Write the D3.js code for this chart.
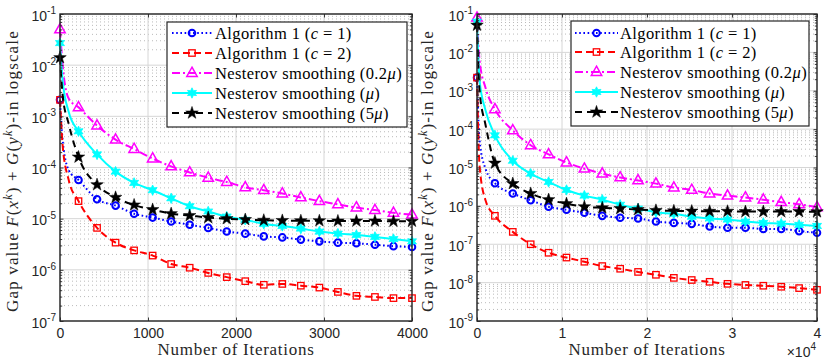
<!DOCTYPE html>
<html><head><meta charset="utf-8">
<script src="https://cdn.jsdelivr.net/npm/d3@7/dist/d3.min.js"></script>
<style>html,body{margin:0;padding:0;background:#fff;} svg{display:block;}</style>
</head><body>
<svg id="chart" width="830" height="359" xmlns="http://www.w3.org/2000/svg"></svg>
<script>
// ================= DATA =================
const seriesKeys = ["c1", "c2", "n02", "n1", "n5"];
const leftXTicks = [0, 1000, 2000, 3000, 4000];
const rightXTicks = [0, 1, 2, 3, 4];
const leftYExponents = [-1, -2, -3, -4, -5, -6, -7];
const rightYExponents = [-1, -2, -3, -4, -5, -6, -7, -8, -9];
// markers are placed every 1/19 of the run
const leftMarkerIters = d3.range(20).map(i => i * 4000 / 19);
const rightMarkerIters = d3.range(20).map(i => i * 4 / 19);   // in units of 10^4
const leftEarlyIters = [30, 100];
const rightEarlyIters = [0.03, 0.1];

// ---- left panel (4000 iterations) ----
const leftC1  = [2.1e-3, 5.7e-5, 2.4e-5, 1.8e-5, 1.25e-5, 1.05e-5, 8.8e-6, 7.6e-6, 6.6e-6, 5.6e-6, 5.1e-6, 4.5e-6, 4.3e-6, 3.9e-6, 3.6e-6, 3.4e-6, 3.3e-6, 3.1e-6, 2.9e-6, 2.8e-6];
const leftC2  = [2.1e-3, 2.2e-5, 6.6e-6, 3.4e-6, 2.4e-6, 1.9e-6, 1.3e-6, 1.1e-6, 8.7e-7, 7.2e-7, 6.0e-7, 5.1e-7, 5.3e-7, 4.9e-7, 4.5e-7, 3.7e-7, 3.1e-7, 2.95e-7, 2.8e-7, 2.8e-7];
const leftN02 = [5e-2, 1.5e-3, 6.6e-4, 3.5e-4, 2.3e-4, 1.5e-4, 1.05e-4, 8e-5, 6.3e-5, 5.2e-5, 4.1e-5, 3.6e-5, 3.1e-5, 2.6e-5, 2.2e-5, 1.9e-5, 1.65e-5, 1.47e-5, 1.3e-5, 1.2e-5];
const leftN1  = [2.7e-2, 5.1e-4, 1.8e-4, 8.3e-5, 5.0e-5, 3.6e-5, 2.5e-5, 1.75e-5, 1.38e-5, 1.1e-5, 9.5e-6, 7.9e-6, 7.2e-6, 6.4e-6, 5.6e-6, 5.1e-6, 4.8e-6, 4.4e-6, 4.0e-6, 3.6e-6];
const leftN5  = [1.4e-2, 1.6e-4, 4.6e-5, 2.6e-5, 1.85e-5, 1.5e-5, 1.25e-5, 1.15e-5, 1.05e-5, 1.0e-5, 9.6e-6, 9.3e-6, 9.2e-6, 9.1e-6, 9.1e-6, 9.0e-6, 9.0e-6, 9.0e-6, 8.9e-6, 8.9e-6];
const leftC1Early  = [3.4e-4, 8.8e-5];
const leftC2Early  = [2.7e-4, 5.6e-5];
const leftN02Early = [1.0e-2, 2.2e-3];
const leftN1Early  = [5.0e-3, 1.2e-3];
const leftN5Early  = [2.6e-3, 7.0e-4];

// ---- right panel (4 x 10^4 iterations) ----
const rightC1  = [2.2e-3, 3.9e-6, 2.1e-6, 1.4e-6, 9.5e-7, 7.9e-7, 6.6e-7, 5.5e-7, 4.9e-7, 4.7e-7, 3.9e-7, 3.6e-7, 3.4e-7, 2.9e-7, 2.7e-7, 2.7e-7, 2.5e-7, 2.5e-7, 2.2e-7, 2.0e-7];
const rightC2  = [2.2e-3, 5.5e-7, 2.1e-7, 1.0e-7, 6.0e-8, 4.5e-8, 3.5e-8, 2.7e-8, 2.3e-8, 1.9e-8, 1.6e-8, 1.33e-8, 1.17e-8, 1.05e-8, 9.3e-9, 8.7e-9, 8.3e-9, 7.8e-9, 7.2e-9, 6.5e-9];
const rightN02 = [8e-2, 3.3e-4, 9.3e-5, 3.8e-5, 2.2e-5, 1.35e-5, 9.3e-6, 6.9e-6, 5.5e-6, 4.6e-6, 3.8e-6, 3.0e-6, 2.6e-6, 2.1e-6, 1.85e-6, 1.65e-6, 1.45e-6, 1.25e-6, 1.1e-6, 9.2e-7];
const rightN1  = [6.3e-2, 6.9e-5, 1.5e-5, 6.9e-6, 4.2e-6, 2.6e-6, 1.85e-6, 1.45e-6, 1.07e-6, 8.5e-7, 6.8e-7, 6.2e-7, 5.2e-7, 4.7e-7, 4.4e-7, 3.9e-7, 3.6e-7, 3.45e-7, 3.2e-7, 3.0e-7];
const rightN5  = [5.1e-2, 1.3e-5, 3.8e-6, 2.1e-6, 1.45e-6, 1.14e-6, 9.5e-7, 8.9e-7, 8.5e-7, 8.0e-7, 7.6e-7, 7.4e-7, 7.3e-7, 7.2e-7, 7.2e-7, 7.1e-7, 7.1e-7, 7.1e-7, 7.1e-7, 7.0e-7];
const rightC1Early  = [5.1e-5, 9.3e-6];
const rightC2Early  = [1.1e-5, 1.4e-6];
const rightN02Early = [6.3e-3, 1.2e-3];
const rightN1Early  = [1.9e-3, 3.1e-4];
const rightN5Early  = [1.0e-3, 1.3e-4];

// ================= STYLE =================
const styles = {
  c1:  {color: "#0000ff", dash: "1.6,2.6", marker: "circle"},
  c2:  {color: "#ff0000", dash: "7,4", marker: "square"},
  n02: {color: "#ff00ff", dash: "8,3,2,3", marker: "triangle"},
  n1:  {color: "#00ffff", dash: null, marker: "hexagram"},
  n5:  {color: "#000000", dash: "7,5", marker: "pentagram"}
};
const SERIF = "'Liberation Serif','Times New Roman',serif";
const SANS = "'Liberation Sans',Arial,Helvetica,sans-serif";
const AXC = "#262626";

function starPath(n, R, r) {
  let p = "";
  for (let i = 0; i < 2 * n; i++) {
    const a = -Math.PI / 2 + i * Math.PI / n;
    const rad = i % 2 ? r : R;
    p += (i ? "L" : "M") + (rad * Math.cos(a)).toFixed(2) + "," + (rad * Math.sin(a)).toFixed(2);
  }
  return p + "Z";
}
function drawMarker(g, kind, color, cx, cy) {
  if (kind === "circle") {
    g.append("circle").attr("cx", cx).attr("cy", cy).attr("r", 3.3)
      .attr("fill", "none").attr("stroke", color).attr("stroke-width", 2);
  } else if (kind === "square") {
    g.append("rect").attr("x", cx - 3.2).attr("y", cy - 3.2).attr("width", 6.4).attr("height", 6.4)
      .attr("fill", "none").attr("stroke", color).attr("stroke-width", 1.3);
  } else if (kind === "triangle") {
    g.append("path").attr("d", "M0,-5.8L5.2,3.4L-5.2,3.4Z").attr("transform", `translate(${cx},${cy})`)
      .attr("fill", "none").attr("stroke", color).attr("stroke-width", 1.5).attr("stroke-linejoin", "miter");
  } else if (kind === "hexagram") {
    g.append("path").attr("d", starPath(6, 5.2, 2.7)).attr("transform", `translate(${cx},${cy})`)
      .attr("fill", color).attr("stroke", color).attr("stroke-width", 0.8);
  } else if (kind === "pentagram") {
    g.append("path").attr("d", starPath(5, 6.6, 2.6)).attr("transform", `translate(${cx},${cy})`)
      .attr("fill", color).attr("stroke", color).attr("stroke-width", 0.5);
  }
}

const svg = d3.select("#chart");

const panels = [
  {
    box: {x0: 60, x1: 412, y0: 14, y1: 321},
    xDomain: [0, 4000], xTicks: leftXTicks, yExps: leftYExponents,
    markerIters: leftMarkerIters, earlyIters: leftEarlyIters,
    data: {c1: leftC1, c2: leftC2, n02: leftN02, n1: leftN1, n5: leftN5},
    early: {c1: leftC1Early, c2: leftC2Early, n02: leftN02Early, n1: leftN1Early, n5: leftN5Early},
    legend: {x: 167, y: 22, w: 240, h: 105, rows: [33, 53, 73, 93, 113], sx0: 172, sx1: 212, tx: 215},
    ylabX: 18, xlabCx: 236, times10: false
  },
  {
    box: {x0: 477, x1: 817, y0: 14, y1: 321},
    xDomain: [0, 4], xTicks: rightXTicks, yExps: rightYExponents,
    markerIters: rightMarkerIters, earlyIters: rightEarlyIters,
    data: {c1: rightC1, c2: rightC2, n02: rightN02, n1: rightN1, n5: rightN5},
    early: {c1: rightC1Early, c2: rightC2Early, n02: rightN02Early, n1: rightN1Early, n5: rightN5Early},
    legend: {x: 571, y: 21, w: 238, h: 105, rows: [33, 52, 72, 92, 112], sx0: 575, sx1: 618, tx: 620},
    ylabX: 433, xlabCx: 647, times10: true
  }
];

const legendLabels = {
  c1:  [["Algorithm 1 (", false], ["c", true], [" = 1)", false]],
  c2:  [["Algorithm 1 (", false], ["c", true], [" = 2)", false]],
  n02: [["Nesterov smoothing (0.2", false], ["μ", true], [")", false]],
  n1:  [["Nesterov smoothing (", false], ["μ", true], [")", false]],
  n5:  [["Nesterov smoothing (5", false], ["μ", true], [")", false]]
};

// widen text by letter spacing so it covers the target width
function fitSpacing(sel, target, nChars) {
  const len = sel.node().getComputedTextLength();
  const ls = Math.max(-0.5, Math.min(1.5, (target - len) / nChars));
  sel.attr("letter-spacing", ls.toFixed(3));
  return ls;
}

panels.forEach(P => {
  const b = P.box;
  const x = d3.scaleLinear().domain(P.xDomain).range([b.x0, b.x1]);
  const yMin = Math.pow(10, d3.min(P.yExps)), yMax = Math.pow(10, d3.max(P.yExps));
  const y = d3.scaleLog().domain([yMin, yMax]).range([b.y1, b.y0]);

  const g = svg.append("g");
  g.append("rect").attr("x", b.x0).attr("y", b.y0).attr("width", b.x1 - b.x0).attr("height", b.y1 - b.y0).attr("fill", "#fff");

  // minor y grid (dotted)
  const minorVals = [];
  for (let e = d3.min(P.yExps); e < d3.max(P.yExps); e++) {
    for (let m = 2; m <= 9; m++) minorVals.push(m * Math.pow(10, e));
  }
  g.append("g").selectAll("line").data(minorVals).join("line")
    .attr("x1", b.x0).attr("x2", b.x1).attr("y1", d => y(d)).attr("y2", d => y(d))
    .attr("stroke", "#a8a8a8").attr("stroke-width", 0.8).attr("stroke-dasharray", "1,3");
  // major grids
  const majorY = P.yExps.map(e => Math.pow(10, e));
  g.append("g").selectAll("line").data(majorY).join("line")
    .attr("x1", b.x0).attr("x2", b.x1).attr("y1", d => y(d)).attr("y2", d => y(d))
    .attr("stroke", "#d6d6d6").attr("stroke-width", 1);
  g.append("g").selectAll("line").data(P.xTicks).join("line")
    .attr("x1", d => x(d)).attr("x2", d => x(d)).attr("y1", b.y0).attr("y2", b.y1)
    .attr("stroke", "#d6d6d6").attr("stroke-width", 1);

  // series
  const line = d3.line().x(d => x(d.it)).y(d => y(d.v)).curve(d3.curveMonotoneX);
  seriesKeys.forEach(k => {
    const st = styles[k];
    const pts = P.markerIters.map((it, i) => ({it, v: P.data[k][i]}));
    const ep = P.earlyIters.map((it, i) => ({it, v: P.early[k][i]}));
    const all = [pts[0], ...ep, ...pts.slice(1)];
    const sg = g.append("g");
    sg.append("path").attr("d", line(all)).attr("fill", "none").attr("stroke", st.color)
      .attr("stroke-width", 2).attr("stroke-dasharray", st.dash);
    pts.forEach(p => drawMarker(sg, st.marker, st.color, x(p.it), y(p.v)));
  });

  // axes with inward ticks
  const bottom = g.append("g").attr("transform", `translate(0,${b.y1})`)
    .call(d3.axisBottom(x).tickValues(P.xTicks).tickSizeInner(-3.5).tickSizeOuter(0).tickFormat(d => String(d)));
  const top = g.append("g").attr("transform", `translate(0,${b.y0})`)
    .call(d3.axisTop(x).tickValues(P.xTicks).tickSizeInner(-3.5).tickSizeOuter(0).tickFormat(""));
  const left = g.append("g").attr("transform", `translate(${b.x0},0)`)
    .call(d3.axisLeft(y).tickValues(majorY).tickSizeInner(-3.5).tickSizeOuter(0).tickFormat(""));
  const right = g.append("g").attr("transform", `translate(${b.x1},0)`)
    .call(d3.axisRight(y).tickValues(majorY).tickSizeInner(-3.5).tickSizeOuter(0).tickFormat(""));
  const leftMinor = g.append("g").attr("transform", `translate(${b.x0},0)`)
    .call(d3.axisLeft(y).tickValues(minorVals).tickSizeInner(-2.2).tickSizeOuter(0).tickFormat(""));
  const rightMinor = g.append("g").attr("transform", `translate(${b.x1},0)`)
    .call(d3.axisRight(y).tickValues(minorVals).tickSizeInner(-2.2).tickSizeOuter(0).tickFormat(""));
  [bottom, top, left, right, leftMinor, rightMinor].forEach(a => {
    a.select(".domain").remove();
    a.selectAll(".tick line").attr("stroke", AXC).attr("stroke-width", 0.9);
  });
  bottom.selectAll(".tick text").attr("font-family", SANS).attr("font-size", 14).attr("fill", AXC)
    .attr("dy", null).attr("y", 16.5);
  // y tick labels 10^e
  left.selectAll(".tick").each(function(d) {
    const e = Math.round(Math.log10(d));
    const t = d3.select(this).select("text");
    t.text(null).attr("x", -4).attr("dy", null).attr("y", 6)
      .attr("font-family", SANS).attr("font-size", 14).attr("fill", AXC).attr("text-anchor", "end");
    t.append("tspan").text("10");
    t.append("tspan").attr("font-size", 10).attr("dy", -6.5).text(String(e));
  });

  // box
  g.append("rect").attr("x", b.x0).attr("y", b.y0).attr("width", b.x1 - b.x0).attr("height", b.y1 - b.y0)
    .attr("fill", "none").attr("stroke", AXC).attr("stroke-width", 1.4);

  if (P.times10) {
    const t = g.append("text").attr("x", b.x1 - 1).attr("y", 357).attr("text-anchor", "end")
      .attr("font-family", SANS).attr("font-size", 14).attr("fill", AXC);
    t.append("tspan").text("×10");
    t.append("tspan").attr("font-size", 10).attr("dy", -7).text("4");
  }

  // x label
  const xl = g.append("text").attr("x", P.xlabCx).attr("y", 355).attr("text-anchor", "middle")
    .attr("font-family", SERIF).attr("font-size", 17).attr("fill", AXC).text("Number of Iterations");
  fitSpacing(xl, 157, 20);

  // y label
  const yl = g.append("text").attr("transform", `translate(${P.ylabX},171) rotate(-90)`)
    .attr("text-anchor", "middle").attr("font-family", SERIF).attr("font-size", 17).attr("fill", AXC);
  const parts = [["Gap value ", 0], ["F", 1], ["(", 0], ["x", 1], ["k", 2], [") + ", 3], ["G", 1], ["(", 0], ["y", 1], ["k", 2], [")-in logscale", 3]];
  parts.forEach(([s, m]) => {
    const ts = yl.append("tspan").text(s);
    if (m === 1) ts.attr("font-style", "italic");
    if (m === 2) ts.attr("font-style", "italic").attr("font-size", "0.7em").attr("dy", "-0.5em");
    if (m === 3) ts.attr("dy", "0.35em");
  });
  fitSpacing(yl, 284, 37);

  // legend
  const L = P.legend;
  const lg = g.append("g");
  lg.append("rect").attr("x", L.x).attr("y", L.y).attr("width", L.w).attr("height", L.h)
    .attr("fill", "#fff").attr("stroke", AXC).attr("stroke-width", 1.2);
  const texts = [];
  seriesKeys.forEach((k, i) => {
    const st = styles[k], yy = L.rows[i];
    lg.append("line").attr("x1", L.sx0).attr("x2", L.sx1).attr("y1", yy).attr("y2", yy)
      .attr("stroke", st.color).attr("stroke-width", 2).attr("stroke-dasharray", st.dash);
    drawMarker(lg, st.marker, st.color, (L.sx0 + L.sx1) / 2, yy);
    const t = lg.append("text").attr("x", L.tx).attr("y", yy + 5.5).attr("font-family", SERIF)
      .attr("font-size", 16.5).attr("fill", "#000");
    legendLabels[k].forEach(([s, it]) => {
      const ts = t.append("tspan").text(s);
      if (it) ts.attr("font-style", "italic");
    });
    texts.push(t);
  });
  const widest = texts[2].node().getComputedTextLength();
  const ls = Math.max(-0.5, Math.min(1.5, (187 - widest) / 25));
  texts.forEach(t => t.attr("letter-spacing", ls.toFixed(3)));
});
</script>
</body></html>
